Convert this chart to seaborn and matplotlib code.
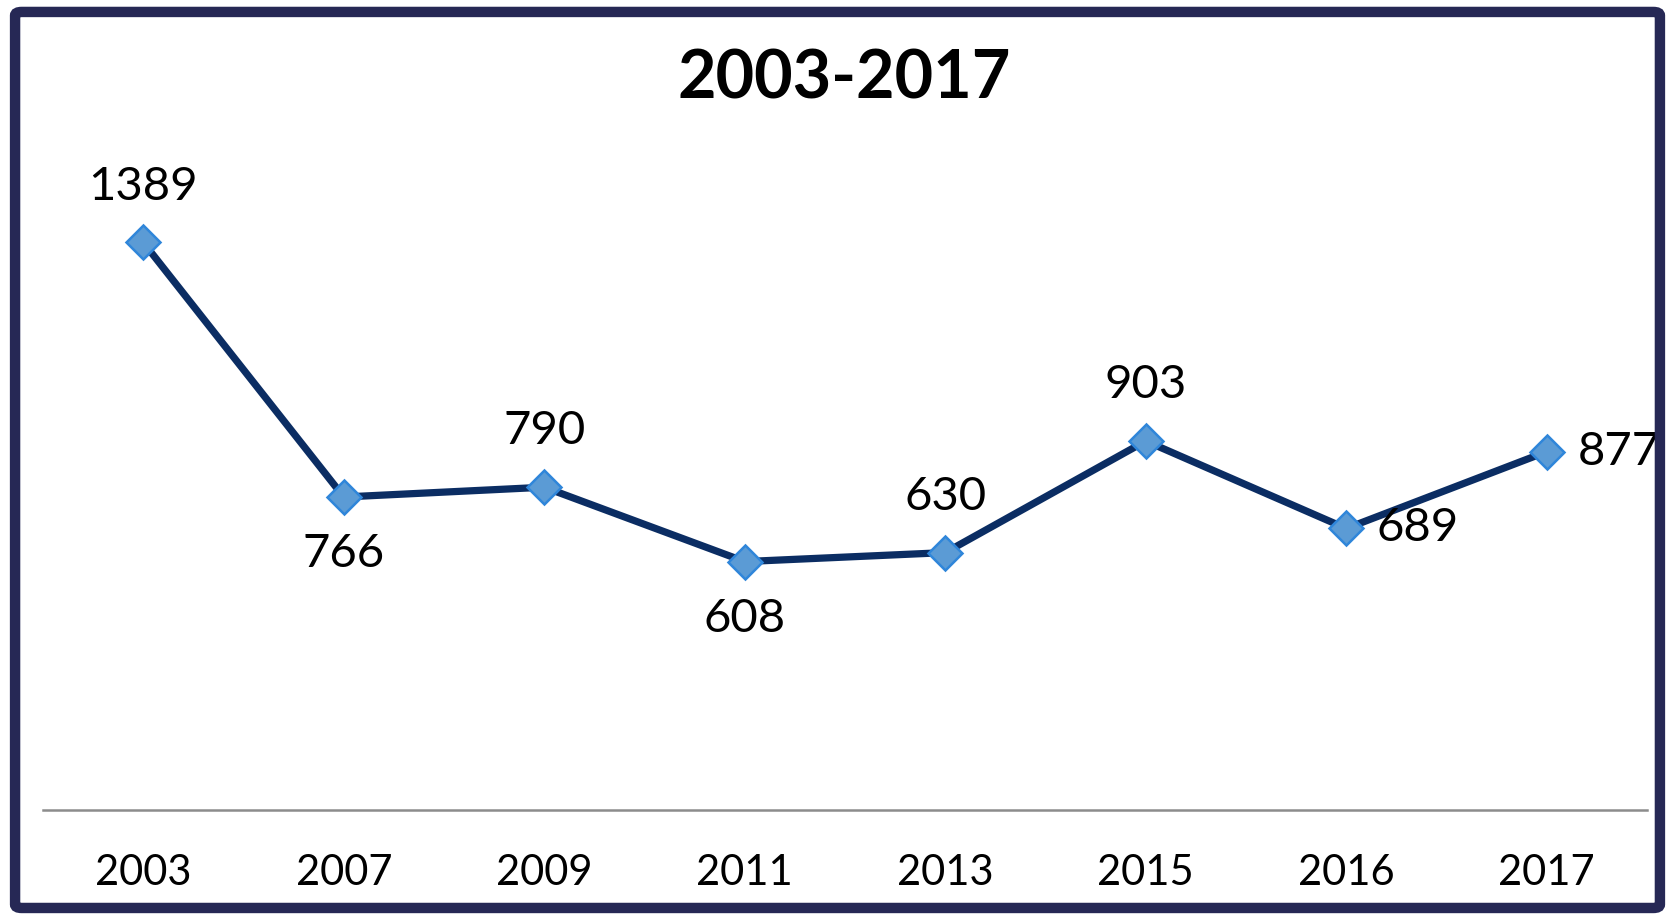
import matplotlib.pyplot as plt
import seaborn as sns
import pandas as pd
from matplotlib.patches import FancyBboxPatch

years = ["2003", "2007", "2009", "2011", "2013", "2015", "2016", "2017"]
values = [1389, 766, 790, 608, 630, 903, 689, 877]
# where each data label sits relative to its point
label_pos = ["above", "below", "above", "below", "above", "above", "right", "right"]

df = pd.DataFrame({"year": years, "value": values})

sns.set_style("white")
plt.rcParams["font.family"] = ["Lato", "DejaVu Sans"]
plt.rcParams["text.color"] = "black"
plt.rcParams["xtick.color"] = "black"

fig = plt.figure(figsize=(16.75, 9.19), dpi=100)
ax = fig.add_axes([0.0257, 0.1186, 0.9576, 0.7114])

sns.lineplot(data=df, x="year", y="value", ax=ax, sort=False,
             color="#0B2D63", linewidth=5.2, marker="D", markersize=17,
             markerfacecolor="#5B9BD5", markeredgecolor="#2F86DA",
             markeredgewidth=1.8)

ax.set_xlim(-0.5, len(years) - 0.5)
ax.set_ylim(0, 1600)
ax.set_yticks([])
ax.set_xlabel("")
ax.set_ylabel("")
for s in ["top", "left", "right"]:
    ax.spines[s].set_visible(False)
ax.spines["bottom"].set_color("#8C8C8C")
ax.spines["bottom"].set_linewidth(1.8)
ax.tick_params(axis="x", length=0, pad=32, labelsize=30, labelcolor="black")

for i, (v, pos) in enumerate(zip(values, label_pos)):
    if pos == "above":
        ax.annotate(str(v), (i, v), xytext=(0, 25), textcoords="offset points",
                    ha="center", va="bottom", fontsize=34)
    elif pos == "below":
        ax.annotate(str(v), (i, v), xytext=(0, -26), textcoords="offset points",
                    ha="center", va="top", fontsize=34)
    else:
        ax.annotate(str(v), (i, v), xytext=(22, 0), textcoords="offset points",
                    ha="left", va="center", fontsize=34)

fig.text(0.504, 0.913, "2003-2017", ha="center", va="center",
         fontsize=48, fontweight="bold")

frame = FancyBboxPatch((0.009, 0.012), 0.982, 0.975, boxstyle="round,pad=0,rounding_size=0.004",
                       transform=fig.transFigure, fill=False,
                       edgecolor="#262855", linewidth=7.5, zorder=10)
fig.patches.append(frame)

fig.savefig("out.png", dpi=100)
